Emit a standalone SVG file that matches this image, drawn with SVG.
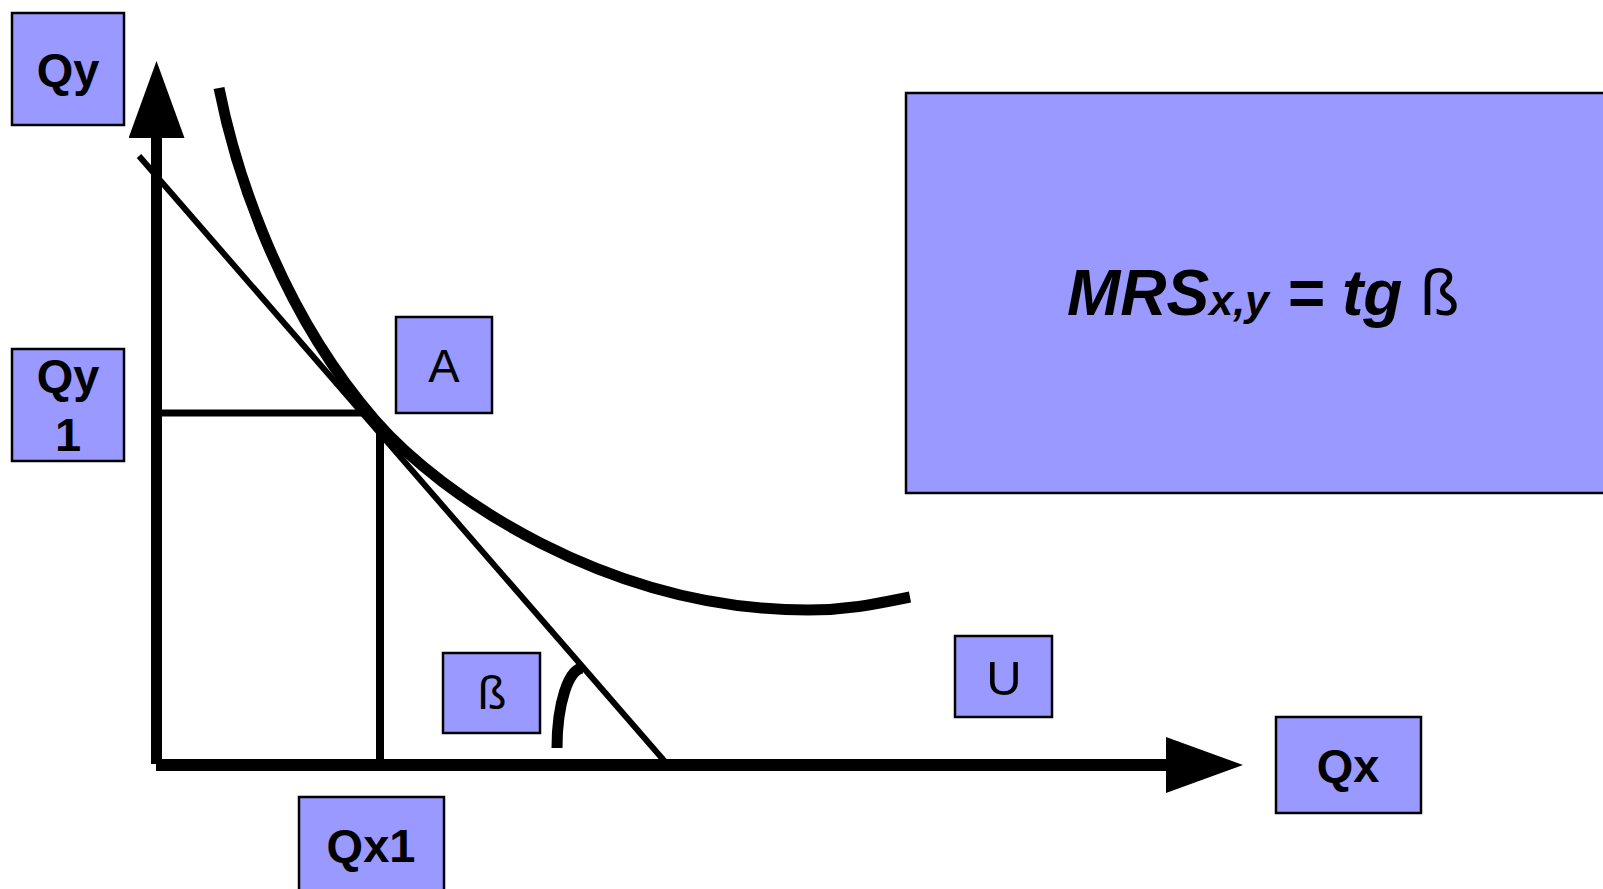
<svg xmlns="http://www.w3.org/2000/svg" width="1603" height="889" viewBox="0 0 1603 889">
  <style>
    .box { fill: #9999ff; stroke: #000000; stroke-width: 2.5; }
    .lbl { font-family: "Liberation Sans", Arial, sans-serif; font-size: 47px; fill: #000000; text-anchor: middle; }
    .b { font-weight: bold; }
    .ln { fill: none; stroke: #000000; stroke-linecap: butt; }
  </style>
  <defs>
    <marker id="head" viewBox="0 0 77 56" markerWidth="77" markerHeight="56" refX="0" refY="28" orient="auto" markerUnits="userSpaceOnUse">
      <path d="M0,0 L77,28 L0,56 Z" fill="#000000"/>
    </marker>
  </defs>
  <rect x="0" y="0" width="1603" height="889" fill="#ffffff"/>

  <g id="connectors">
    <line class="ln" x1="156.5" y1="764" x2="156.5" y2="138" stroke-width="11" marker-end="url(#head)"/>
    <line class="ln" x1="156" y1="765" x2="1166" y2="765" stroke-width="12" marker-end="url(#head)"/>
    <line class="ln" x1="139" y1="156" x2="667" y2="764" stroke-width="6"/>
    <line class="ln" x1="156" y1="413" x2="363" y2="413" stroke-width="7"/>
    <line class="ln" x1="380" y1="430" x2="380" y2="762" stroke-width="8"/>
    <path class="ln" stroke-width="11" d="M219,88 C230.8,147.8 270,299.2 375,420 C440.6,495.5 608,610 808,610 C850,610 880,603 910,597"/>
    <path class="ln" stroke-width="11" d="M557,748 A26,80 0 0 1 583,668"/>
  </g>

  <g id="node-qy">
    <rect class="box" x="12" y="13" width="112" height="112"/>
    <text class="lbl b" x="68" y="86">Qy</text>
  </g>
  <g id="node-qy1">
    <rect class="box" x="12" y="349" width="112" height="112"/>
    <text class="lbl b" x="68" y="392">Qy</text>
    <text class="lbl b" x="68" y="451">1</text>
  </g>
  <g id="node-a">
    <rect class="box" x="396" y="317" width="96" height="96"/>
    <text class="lbl" x="444" y="382">A</text>
  </g>
  <g id="node-beta">
    <rect class="box" x="443" y="653" width="97" height="80"/>
    <text class="lbl" x="492" y="709" font-size="46">ß</text>
  </g>
  <g id="node-qx1">
    <rect class="box" x="299" y="797" width="145" height="110"/>
    <text class="lbl b" x="371" y="862">Qx1</text>
  </g>
  <g id="node-u">
    <rect class="box" x="955" y="636" width="97" height="81"/>
    <text class="lbl" x="1004" y="695" style="font-size:49px">U</text>
  </g>
  <g id="node-qx">
    <rect class="box" x="1276" y="717" width="145" height="96"/>
    <text class="lbl b" x="1348" y="782">Qx</text>
  </g>
  <g id="node-mrs">
    <rect class="box" x="906" y="93" width="720" height="400"/>
    <text x="1067" y="315" font-family="'Liberation Sans', Arial, sans-serif" font-size="64" font-weight="bold" font-style="italic" fill="#000000">MRS<tspan font-size="43">x,y</tspan> = tg <tspan font-weight="normal" font-style="normal">ß</tspan></text>
  </g>
</svg>
